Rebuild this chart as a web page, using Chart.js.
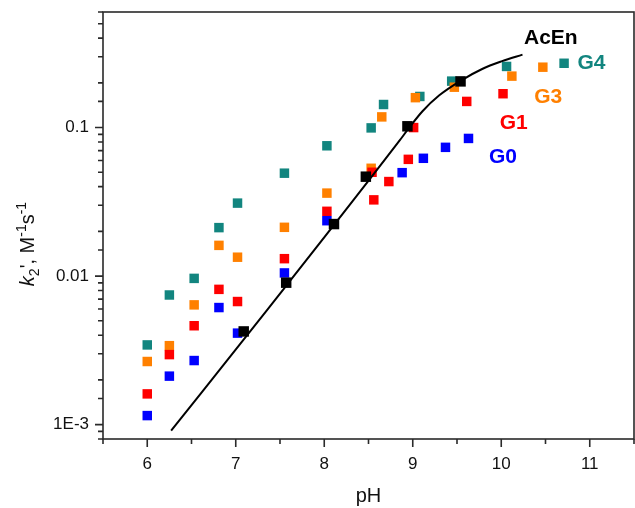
<!DOCTYPE html>
<html>
<head>
<meta charset="utf-8">
<script src="https://cdn.jsdelivr.net/npm/chart.js@4/dist/chart.umd.min.js"></script>
<style>
  html, body { margin: 0; padding: 0; background: #fff; }
</style>
</head>
<body>
<canvas id="kChart" width="635" height="508"></canvas>
<script>
// values (pH, k2')
var pH_G4 = [6.00, 6.25, 6.53, 6.81, 7.02, 7.55, 8.03, 8.53, 8.67, 9.08, 9.44, 10.06, 10.71]
var k_G4  = [0.00344, 0.00746, 0.00965, 0.0212, 0.031, 0.0493, 0.0754, 0.0995, 0.143, 0.162, 0.2055, 0.258, 0.271]

var pH_G3 = [6.00, 6.25, 6.53, 6.81, 7.02, 7.55, 8.03, 8.53, 8.65, 9.03, 9.47, 10.12, 10.47]
var k_G3  = [0.00266, 0.0034, 0.0064, 0.0161, 0.0134, 0.0213, 0.0362, 0.0532, 0.118, 0.159, 0.187, 0.222, 0.255]

var pH_G1 = [6.00, 6.25, 6.53, 6.81, 7.02, 7.55, 8.03, 8.54, 8.56, 8.73, 8.95, 9.01, 9.61, 10.02]
var k_G1  = [0.00161, 0.00296, 0.00463, 0.00814, 0.00674, 0.0131, 0.0273, 0.050, 0.0326, 0.0433, 0.0611, 0.100, 0.150, 0.169]

var pH_G0 = [6.00, 6.25, 6.53, 6.81, 7.02, 7.55, 8.03, 8.88, 9.12, 9.37, 9.63]
var k_G0  = [0.00115, 0.00212, 0.0027, 0.00614, 0.00413, 0.0105, 0.0236, 0.0497, 0.0621, 0.0736, 0.0845]

var pH_AcEn = [7.09, 7.57, 8.11, 8.47, 8.94, 9.54]
var k_AcEn  = [0.00424, 0.00903, 0.0224, 0.0467, 0.102, 0.2046]

// fitted curve for AcEn
var pH_fit = [6.27, 7.34, 8.85, 8.96, 9.11, 9.30, 9.55, 9.79, 10.01, 10.24]
var k_fit  = [0.00091, 0.00577, 0.0816, 0.0998, 0.1288, 0.1648, 0.208, 0.249, 0.280, 0.310]

var xTicks = [6, 7, 8, 9, 10, 11]
var yTickLabels = { '-1': '0.1', '-2': '0.01', '-3': '1E-3' }

// series labels placed in data coordinates
var seriesLabels = [
  { text: 'AcEn', pH: 10.56, k: 0.397, color: '#000000' },
  { text: 'G4', pH: 11.02, k: 0.273, color: '#12857f' },
  { text: 'G3', pH: 10.53, k: 0.160, color: '#ff8000' },
  { text: 'G1', pH: 10.14, k: 0.1075, color: '#ff0000' },
  { text: 'G0', pH: 10.02, k: 0.063, color: '#0000ff' }
]

function pts(xs, ys) {
  return xs.map(function (v, i) { return { x: v, y: ys[i] } })
}

function isDecade(v) {
  var e = Math.log10(v)
  return Math.abs(e - Math.round(e)) < 1e-6
}

var FONT = "'Liberation Sans', Arial, sans-serif"

var axisDecor = {
  id: 'axisDecor',
  afterDraw: function (chart) {
    var ctx = chart.ctx, a = chart.chartArea
    var x = chart.scales.x, y = chart.scales.y
    ctx.save()
    ctx.strokeStyle = '#2a2a2a'
    ctx.lineWidth = 1.6
    ctx.strokeRect(a.left, a.top, a.right - a.left, a.bottom - a.top)

    ctx.beginPath()
    x.ticks.forEach(function (t) {
      var px = x.getPixelForValue(t.value)
      var len = xTicks.indexOf(t.value) >= 0 ? 8 : 5
      ctx.moveTo(px, a.bottom)
      ctx.lineTo(px, a.bottom + len)
    })
    y.ticks.forEach(function (t) {
      var py = y.getPixelForValue(t.value)
      var len = isDecade(t.value) ? 8 : 5
      ctx.moveTo(a.left, py)
      ctx.lineTo(a.left - len, py)
    })
    ctx.stroke()

    // x title
    ctx.fillStyle = '#111'
    ctx.font = '20px ' + FONT
    ctx.textAlign = 'center'
    ctx.textBaseline = 'middle'
    ctx.fillText('pH', (a.left + a.right) / 2, 496)

    // y title with sub/superscripts
    var parts = [
      { t: 'k', f: 'italic 20px ' + FONT, dy: 0 },
      { t: '2', f: '14px ' + FONT, dy: 5 },
      { t: "', M", f: '20px ' + FONT, dy: 0 },
      { t: '-1', f: '14px ' + FONT, dy: -8 },
      { t: 's', f: '20px ' + FONT, dy: 0 },
      { t: '-1', f: '14px ' + FONT, dy: -8 }
    ]
    var w = 0
    parts.forEach(function (p) { ctx.font = p.f; p.w = ctx.measureText(p.t).width; w += p.w })
    ctx.translate(34, 244)
    ctx.rotate(-Math.PI / 2)
    ctx.textAlign = 'left'
    ctx.textBaseline = 'alphabetic'
    var cx = -w / 2
    parts.forEach(function (p) {
      ctx.font = p.f
      ctx.fillText(p.t, cx, p.dy)
      cx += p.w
    })
    ctx.setTransform(1, 0, 0, 1, 0, 0)

    // series labels
    ctx.font = 'bold 21px ' + FONT
    ctx.textAlign = 'center'
    ctx.textBaseline = 'middle'
    seriesLabels.forEach(function (l) {
      ctx.fillStyle = l.color
      ctx.fillText(l.text, x.getPixelForValue(l.pH), y.getPixelForValue(l.k))
    })
    ctx.restore()
  }
}

function markers(label, xs, ys, color, r, order) {
  return {
    label: label,
    data: pts(xs, ys),
    pointStyle: 'rect',
    pointRadius: r,
    pointBackgroundColor: color,
    pointBorderWidth: 0,
    showLine: false,
    order: order
  }
}

var ctx = document.getElementById('kChart')
var chart = new Chart(ctx, {
  type: 'scatter',
  data: {
    datasets: [
      markers('AcEn', pH_AcEn, k_AcEn, '#000000', 7.4, 0),
      {
        label: 'AcEn fit',
        data: pts(pH_fit, k_fit),
        showLine: true,
        borderColor: '#000',
        borderWidth: 2,
        pointRadius: 0,
        cubicInterpolationMode: 'monotone',
        order: 1
      },
      markers('G0', pH_G0, k_G0, '#0000ff', 6.7, 2),
      markers('G1', pH_G1, k_G1, '#ff0000', 6.7, 3),
      markers('G3', pH_G3, k_G3, '#ff8000', 6.7, 4),
      markers('G4', pH_G4, k_G4, '#12857f', 6.7, 5)
    ]
  },
  options: {
    responsive: false,
    animation: false,
    layout: { autoPadding: false, padding: { left: 0, right: 1, top: 12, bottom: 0 } },
    plugins: { legend: { display: false }, tooltip: { enabled: false } },
    scales: {
      x: {
        type: 'linear',
        min: 5.5,
        max: 11.5,
        afterFit: function (s) { s.height = 69; s.paddingLeft = 0; s.paddingRight = 0 },
        grid: { color: 'transparent', drawOnChartArea: false, tickLength: 8 },
        border: { display: false },
        ticks: {
          stepSize: 0.5,
          autoSkip: false,
          maxRotation: 0,
          padding: 7,
          color: '#111',
          font: { family: FONT, size: 17 },
          callback: function (v) { return xTicks.indexOf(v) >= 0 ? String(v) : '' }
        }
      },
      y: {
        type: 'logarithmic',
        min: 0.0008,
        max: 0.6,
        afterFit: function (s) { s.width = 103; s.paddingTop = 0; s.paddingBottom = 0 },
        grid: { color: 'transparent', drawOnChartArea: false, tickLength: 8 },
        border: { display: false },
        ticks: {
          autoSkip: false,
          padding: 6,
          color: '#111',
          font: { family: FONT, size: 17 },
          callback: function (v) {
            if (!isDecade(v)) return ''
            return yTickLabels[String(Math.round(Math.log10(v)))] || ''
          }
        }
      }
    }
  },
  plugins: [axisDecor]
})
</script>
</body>
</html>
